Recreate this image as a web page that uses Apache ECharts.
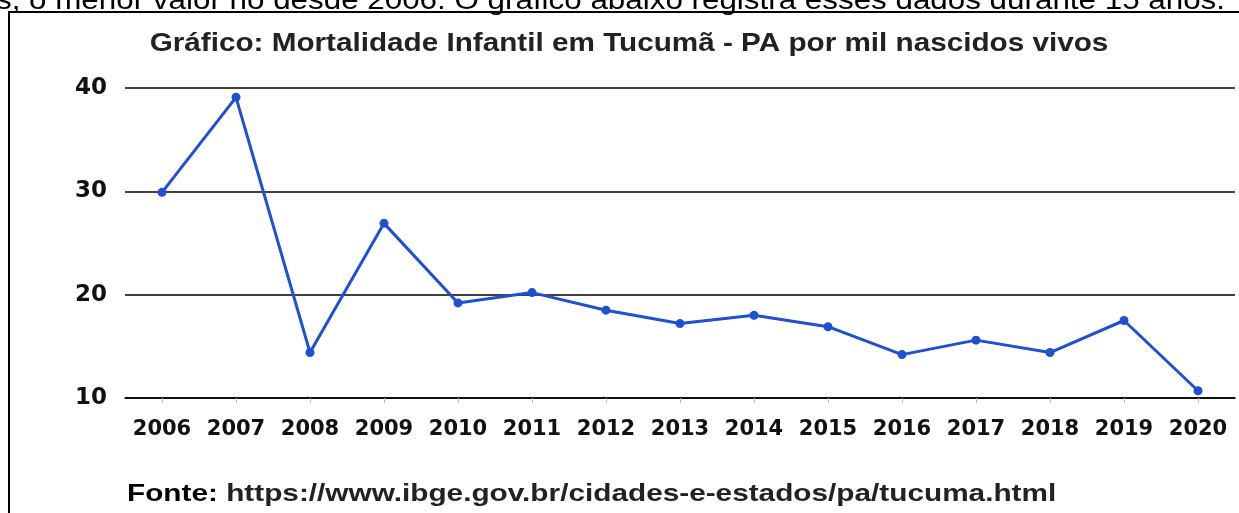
<!DOCTYPE html>
<html>
<head>
<meta charset="utf-8">
<script src="https://cdn.jsdelivr.net/npm/echarts@6/dist/echarts.min.js"></script>
<style>
  html, body { margin: 0; padding: 0; background: #fff; }
  #chart { width: 1239px; height: 513px; }
</style>
</head>
<body>
<div id="chart"></div>
<script>
// anos e taxa de mortalidade infantil (por mil nascidos vivos)
var anos = ["2006", "2007", "2008", "2009", "2010", "2011", "2012", "2013", "2014", "2015", "2016", "2017", "2018", "2019", "2020"];
var mortalidade = [29.9, 39.1, 14.4, 26.9, 19.2, 20.2, 18.5, 17.2, 18.0, 16.9, 14.2, 15.6, 14.4, 17.5, 10.7];
var ticksY = [10, 20, 30, 40];

var titulo = "Gráfico: Mortalidade Infantil em Tucumã - PA por mil nascidos vivos";
var textoTopo = "s, o menor valor no desde 2006. O gráfico abaixo registra esses dados durante 15 anos.";
var fonte = "https://www.ibge.gov.br/cidades-e-estados/pa/tucuma.html";

var chart = echarts.init(document.getElementById("chart"));
var option = {
  backgroundColor: "#fff",
  animation: false,
  grid: { left: 125, right: 4, top: 88, bottom: 115 },
  xAxis: {
    type: "category",
    data: anos,
    boundaryGap: true,
    axisLine: { show: true, lineStyle: { color: "#000", width: 1.5 } },
    axisTick: { show: true, alignWithLabel: true, interval: 0, length: 5, lineStyle: { color: "#bbb" } },
    axisLabel: {
      interval: 0,
      hideOverlap: false,
      margin: 21,
      color: "#111",
      fontFamily: "DejaVu Sans",
      fontWeight: "bold",
      fontSize: 21
    }
  },
  yAxis: {
    type: "value",
    min: ticksY[0],
    max: ticksY[ticksY.length - 1],
    interval: 10,
    axisLine: { show: false },
    axisTick: { show: false },
    splitLine: { show: true, lineStyle: { color: "#000", width: 1.5 } },
    axisLabel: {
      margin: 18,
      color: "#111",
      fontFamily: "DejaVu Sans",
      fontWeight: "bold",
      fontSize: 23
    }
  },
  series: [{
    type: "line",
    data: mortalidade,
    symbol: "circle",
    symbolSize: 9,
    lineStyle: { color: "#1f50d2", width: 3 },
    itemStyle: { color: "#1f50d2" }
  }],
  graphic: [
    {
      type: "rect",
      shape: { x: 9, y: 12, width: 1240, height: 520 },
      style: { fill: "none", stroke: "#000", lineWidth: 2 },
      z: -1
    },
    {
      // texto cortado acima do quadro
      type: "text",
      x: 1225,
      y: 15,
      scaleX: 1.12,
      style: {
        text: textoTopo,
        fontFamily: "Liberation Sans",
        fontSize: 28,
        fill: "#000",
        align: "right",
        verticalAlign: "bottom"
      }
    },
    {
      type: "text",
      x: 629,
      y: 44,
      scaleX: 1.12,
      style: {
        text: titulo,
        fontFamily: "Liberation Sans",
        fontWeight: "bold",
        fontSize: 26.5,
        fill: "#222",
        align: "center",
        verticalAlign: "middle"
      }
    },
    {
      type: "text",
      x: 127,
      y: 494,
      scaleX: 1.24,
      style: {
        text: "{b|Fonte:} " + fonte,
        fontFamily: "Liberation Sans",
        fontWeight: "bold",
        fontSize: 24,
        fill: "#222",
        align: "left",
        verticalAlign: "middle",
        rich: {
          b: { fontFamily: "Liberation Sans", fontWeight: "bold", fontSize: 24, fill: "#000" }
        }
      }
    }
  ]
};
chart.setOption(option);
</script>
</body>
</html>
